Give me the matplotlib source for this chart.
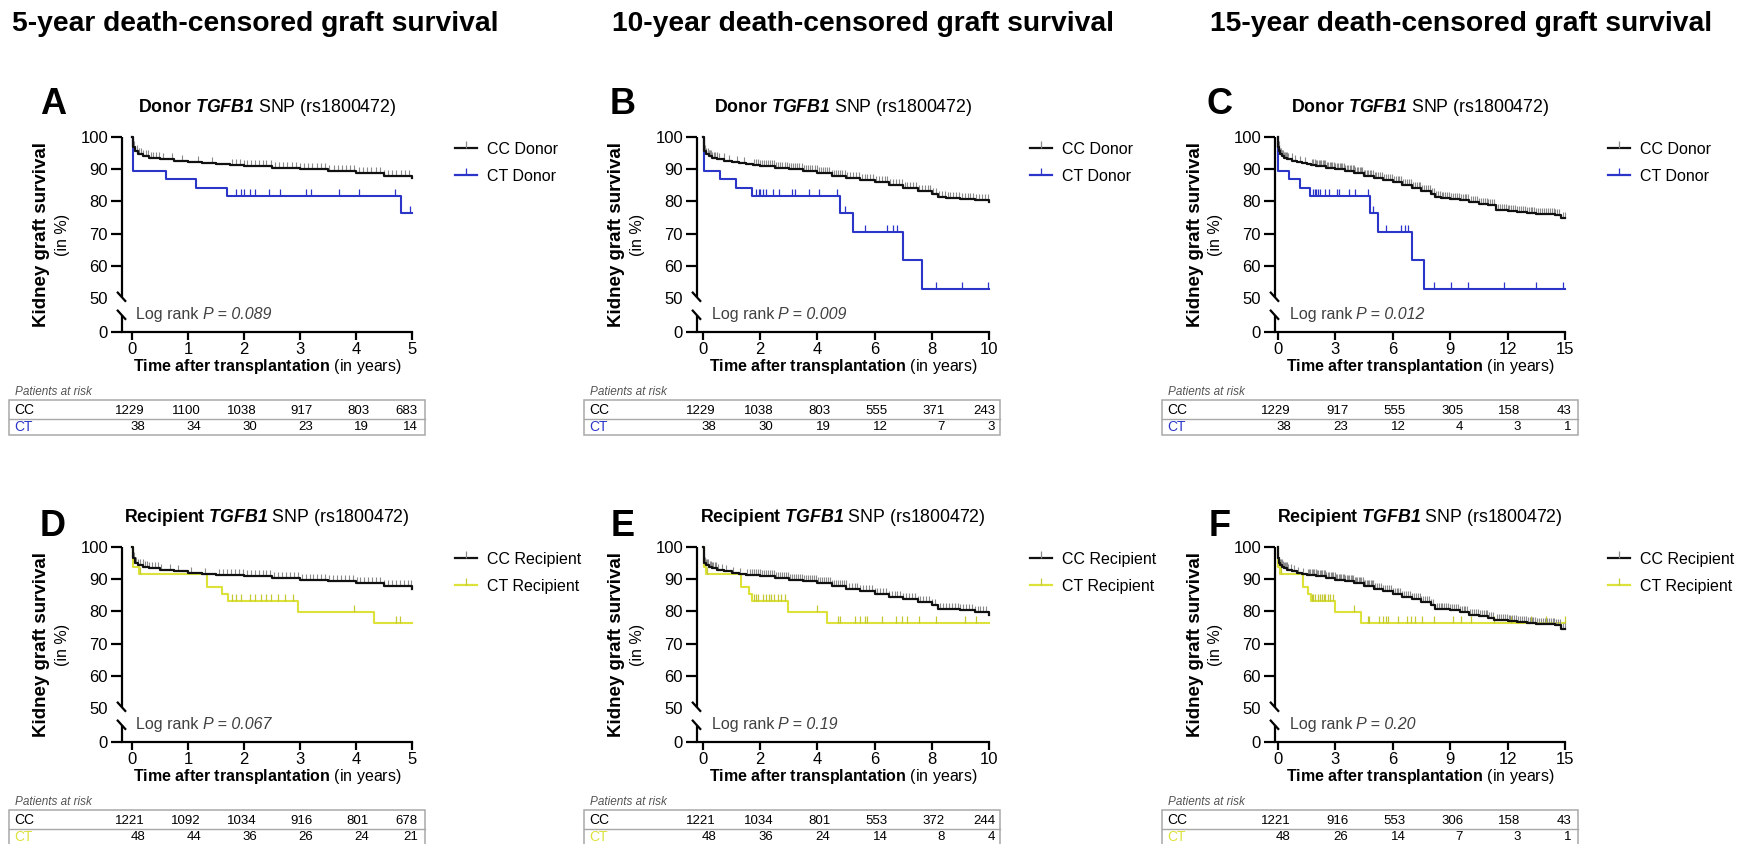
import numpy as np
import matplotlib
matplotlib.use("Agg")
import matplotlib.pyplot as plt
from matplotlib.transforms import blended_transform_factory, ScaledTranslation
from matplotlib.patches import Rectangle
from matplotlib.lines import Line2D

plt.rcParams['font.family'] = ['Liberation Sans', 'DejaVu Sans']
plt.rcParams['mathtext.fontset'] = 'custom'
plt.rcParams['mathtext.rm'] = 'Liberation Sans'
plt.rcParams['mathtext.it'] = 'Liberation Sans:italic'
plt.rcParams['mathtext.bf'] = 'Liberation Sans:bold'
plt.rcParams['mathtext.bfit'] = 'Liberation Sans:italic:bold'

# ---------------- data ----------------
column_titles = ["5-year death-censored graft survival",
                 "10-year death-censored graft survival",
                 "15-year death-censored graft survival"]
panel_letters = [["A", "B", "C"], ["D", "E", "F"]]
horizons = [5, 10, 15]
xtick_steps = [1, 2, 3]

# CC donor (black)
cc_donor_t = [0, 0.02, 0.05, 0.1, 0.2, 0.3, 0.5, 0.75, 1.0, 1.25, 1.5, 1.75, 2.0, 2.5, 3.0, 3.5, 4.0, 4.5,
              5.0, 5.5, 6.0, 6.5, 7.0, 7.5, 8.0, 8.2, 8.5, 9.0, 9.5, 10.0, 10.5, 11.0, 11.4, 12.0, 12.5,
              13.0, 13.5, 14.0, 14.5, 14.8]
cc_donor_s = [100, 97.0, 95.5, 94.8, 94.0, 93.6, 93.1, 92.6, 92.2, 91.8, 91.5, 91.2, 91.0, 90.5, 90.0, 89.5,
              88.9, 88.0, 87.2, 86.6, 86.0, 85.0, 84.2, 83.3, 82.3, 81.3, 81.0, 80.8, 80.4, 79.8, 79.3, 78.8,
              77.4, 77.0, 76.8, 76.5, 76.2, 76.0, 75.9, 74.7]
cc_donor_censor = [0.04, 0.08, 0.12, 0.16, 0.2, 0.24, 0.28, 0.33, 0.38, 0.43, 0.48, 0.55, 0.72, 0.9, 1.18, 1.42,
                   1.78, 1.86, 1.93, 2.0, 2.06, 2.13, 2.2, 2.27, 2.34, 2.4, 2.48, 2.55, 2.62, 2.7, 2.77, 2.85,
                   2.92, 3.0, 3.07, 3.15, 3.22, 3.3, 3.37, 3.45, 3.52, 3.6, 3.67, 3.75, 3.82, 3.9, 3.97, 4.05,
                   4.12, 4.2, 4.27, 4.35, 4.42, 4.5, 4.57, 4.65, 4.72, 4.8, 4.87, 4.95, 5.05, 5.15, 5.25, 5.35,
                   5.45, 5.55, 5.65, 5.75, 5.85, 5.95, 6.05, 6.15, 6.25, 6.35, 6.45, 6.55, 6.65, 6.75, 6.85,
                   6.95, 7.05, 7.15, 7.25, 7.35, 7.45, 7.55, 7.65, 7.75, 7.85, 7.95, 8.05, 8.15, 8.25, 8.35,
                   8.45, 8.55, 8.65, 8.75, 8.85, 8.95, 9.05, 9.15, 9.25, 9.35, 9.45, 9.55, 9.65, 9.75, 9.85,
                   9.95, 10.1, 10.2, 10.3, 10.4, 10.5, 10.6, 10.7, 10.8, 10.9, 11.0, 11.1, 11.2, 11.3, 11.5,
                   11.6, 11.7, 11.8, 11.9, 12.0, 12.1, 12.2, 12.3, 12.4, 12.5, 12.6, 12.7, 12.8, 12.9, 13.0,
                   13.1, 13.2, 13.3, 13.4, 13.5, 13.6, 13.7, 13.8, 13.9, 14.0, 14.1, 14.2, 14.3, 14.4, 14.5,
                   14.6, 14.7, 14.9, 15.0]

# CT donor (blue)
ct_donor_t = [0, 0.02, 0.6, 1.15, 1.7, 4.8, 5.25, 7.0, 7.65]
ct_donor_s = [100, 89.5, 86.8, 84.2, 81.6, 76.3, 70.5, 61.7, 52.9]
ct_donor_censor = [1.85, 1.95, 2.0, 2.1, 2.2, 2.45, 2.65, 3.1, 3.2, 3.7, 4.05, 4.7, 4.97, 5.65, 6.45,
                   6.65, 6.8, 8.15, 9.05, 9.95, 11.8, 13.5, 14.9]

# CC recipient (black)
cc_recip_t = [0, 0.02, 0.05, 0.1, 0.2, 0.3, 0.5, 0.75, 1.0, 1.25, 1.5, 1.75, 2.0, 2.5, 3.0, 3.5, 4.0, 4.5,
              5.0, 5.5, 6.0, 6.5, 7.0, 7.5, 8.0, 8.2, 8.5, 9.0, 9.5, 10.0, 10.5, 11.0, 11.3, 12.0, 12.5,
              13.0, 13.5, 14.0, 14.5, 14.8]
cc_recip_s = [100, 96.5, 95.0, 94.3, 93.8, 93.4, 93.0, 92.5, 92.0, 91.7, 91.4, 91.2, 90.9, 90.4, 89.8, 89.3,
              88.8, 87.9, 87.0, 86.2, 85.4, 84.6, 83.8, 83.0, 82.0, 80.8, 80.6, 80.4, 79.8, 79.0, 78.5, 78.0,
              77.2, 76.9, 76.7, 76.4, 76.2, 76.0, 75.8, 74.4]
cc_recip_censor = [0.03, 0.07, 0.11, 0.15, 0.19, 0.23, 0.27, 0.31, 0.36, 0.41, 0.46, 0.52, 0.68, 0.82, 1.05,
                   1.3, 1.55, 1.63, 1.7, 1.77, 1.84, 1.91, 1.98, 2.05, 2.12, 2.19, 2.26, 2.33, 2.4, 2.47, 2.54,
                   2.61, 2.68, 2.75, 2.82, 2.89, 2.96, 3.03, 3.1, 3.17, 3.24, 3.31, 3.38, 3.45, 3.52, 3.59,
                   3.66, 3.73, 3.8, 3.87, 3.94, 4.01, 4.08, 4.15, 4.22, 4.29, 4.36, 4.43, 4.5, 4.57, 4.64,
                   4.71, 4.78, 4.85, 4.92, 4.99, 5.1, 5.2, 5.3, 5.4, 5.5, 5.6, 5.7, 5.8, 5.9, 6.0, 6.1, 6.2,
                   6.3, 6.4, 6.5, 6.6, 6.7, 6.8, 6.9, 7.0, 7.1, 7.2, 7.3, 7.4, 7.5, 7.6, 7.7, 7.8, 7.9, 8.0,
                   8.1, 8.3, 8.4, 8.5, 8.6, 8.7, 8.8, 8.9, 9.0, 9.1, 9.2, 9.3, 9.4, 9.5, 9.6, 9.7, 9.8, 9.9,
                   10.05, 10.15, 10.25, 10.35, 10.45, 10.55, 10.65, 10.75, 10.85, 10.95, 11.05, 11.15, 11.25,
                   11.45, 11.55, 11.65, 11.75, 11.85, 11.95, 12.05, 12.15, 12.25, 12.35, 12.45, 12.55, 12.65,
                   12.75, 12.85, 12.95, 13.05, 13.15, 13.25, 13.35, 13.45, 13.55, 13.65, 13.75, 13.85, 13.95,
                   14.05, 14.15, 14.25, 14.35, 14.45, 14.55, 14.65, 14.75, 14.9, 15.0]

# CT recipient (yellow)
ct_recip_t = [0, 0.02, 0.12, 1.33, 1.6, 1.72, 2.97, 4.33]
ct_recip_s = [100, 93.8, 91.7, 87.5, 85.4, 83.3, 79.8, 76.5]
ct_recip_censor = [0.15, 1.78, 1.85, 1.94, 2.1, 2.2, 2.3, 2.39, 2.48, 2.61, 2.74, 2.87, 3.97, 4.72, 4.78,
                   5.3, 5.5, 5.65, 5.75, 6.25, 6.75, 6.95, 7.15, 7.55, 8.15, 9.15, 9.55, 10.1, 11.3, 12.2,
                   13.2, 14.0, 15.0]

pvalues_donor = ["0.089", "0.009", "0.012"]
pvalues_recip = ["0.067", "0.19", "0.20"]

risk_cc_donor = [[1229, 1100, 1038, 917, 803, 683], [1229, 1038, 803, 555, 371, 243], [1229, 917, 555, 305, 158, 43]]
risk_ct_donor = [[38, 34, 30, 23, 19, 14], [38, 30, 19, 12, 7, 3], [38, 23, 12, 4, 3, 1]]
risk_cc_recip = [[1221, 1092, 1034, 916, 801, 678], [1221, 1034, 801, 553, 372, 244], [1221, 916, 553, 306, 158, 43]]
risk_ct_recip = [[48, 44, 36, 26, 24, 21], [48, 36, 24, 14, 8, 4], [48, 26, 14, 7, 3, 1]]

ytick_labels = ["0", "50", "60", "70", "80", "90", "100"]

# ---------------- style / layout ----------------
BLACK = "#111111"
CC_TICK = "#8a8a8a"
BLUE = "#2b36c9"
YELLOW = "#dce23a"
YELLOW_TICK = "#c4c832"
GRAY_TXT = "#404040"
BOX = "#a8a8a8"

W, H = 1749, 844
fig = plt.figure(figsize=(W / 100, H / 100), dpi=100)
renderer = fig.canvas.get_renderer()

spine_x = [122, 697, 1275]
axes_w = [290, 292, 290]
xlim_left = [-0.18, -0.21, -0.15]
row_top = [137, 547]
axes_h = 195
Y_ZERO = 39.4
letter_x = [53, 623, 1220]
letter_dy = [-33, -20]
title_x = [12, 612, 1210]
LR_SIZE = 11.5

rows = [
    dict(group="Donor", cc=(cc_donor_t, cc_donor_s, cc_donor_censor), ct=(ct_donor_t, ct_donor_s, ct_donor_censor),
         color=BLUE, tick=BLUE, pv=pvalues_donor, rcc=risk_cc_donor, rct=risk_ct_donor),
    dict(group="Recipient", cc=(cc_recip_t, cc_recip_s, cc_recip_censor), ct=(ct_recip_t, ct_recip_s, ct_recip_censor),
         color=YELLOW, tick=YELLOW_TICK, pv=pvalues_recip, rcc=risk_cc_recip, rct=risk_ct_recip),
]


def fxy(x, y):
    return x / W, 1 - y / H


def truncated(t, s, h):
    t = np.asarray(t, float)
    s = np.asarray(s, float)
    m = t <= h
    return np.append(t[m], h), np.append(s[m], s[m][-1])


def censor_points(t, s, c, h):
    t = np.asarray(t, float)
    s = np.asarray(s, float)
    c = np.asarray(c, float)
    c = c[c <= h]
    idx = np.searchsorted(t, c, side="right") - 1
    return c, s[idx]


for j, title in enumerate(column_titles):
    fig.text(*fxy(title_x[j], 24), title, fontsize=20.3, fontweight="bold", ha="left", va="center")

for r, row in enumerate(rows):
    rt = row_top[r]
    for j in range(3):
        h = horizons[j]
        sx = spine_x[j]
        aw = axes_w[j]
        ax = fig.add_axes([sx / W, 1 - (rt + axes_h) / H, aw / W, axes_h / H])
        ax.set_xlim(xlim_left[j], h)
        ax.set_ylim(Y_ZERO, 100)
        for sp in ["top", "right", "left"]:
            ax.spines[sp].set_visible(False)
        ax.spines["bottom"].set_linewidth(1.6)
        ax.patch.set_alpha(0)

        # curves: CT first, CC on top
        ct_t, ct_s, ct_c = row["ct"]
        tt, ss = truncated(ct_t, ct_s, h)
        ax.step(tt, ss, where="post", color=row["color"], lw=1.5, clip_on=False, zorder=3)
        cx, cy = censor_points(ct_t, ct_s, ct_c, h)
        ax.plot(cx, cy, ls="none", marker=2, ms=5, mew=0.9, color=row["tick"], clip_on=False, zorder=3)

        cc_t, cc_s, cc_c = row["cc"]
        cx, cy = censor_points(cc_t, cc_s, cc_c, h)
        ax.plot(cx, cy, ls="none", marker=2, ms=4.5, mew=0.8, color=CC_TICK, clip_on=False, zorder=4)
        tt, ss = truncated(cc_t, cc_s, h)
        ax.step(tt, ss, where="post", color=BLACK, lw=1.6, clip_on=False, zorder=5)

        # broken y axis
        yt = ax.get_yaxis_transform()
        kw = dict(color="black", lw=1.6, transform=yt, clip_on=False, solid_capstyle="butt", zorder=6)
        ax.plot([0, 0], [100, 50.4], **kw)
        ax.plot([0, 0], [44.7, Y_ZERO], **kw)
        d1, d2 = -5 / aw, 4 / aw
        ax.plot([d1, d2], [51.9, 48.8], **kw)
        ax.plot([d1, d2], [46.3, 43.2], **kw)

        ax.set_yticks([Y_ZERO, 50, 60, 70, 80, 90, 100])
        ax.set_yticklabels(ytick_labels)
        ax.yaxis.get_major_ticks()[1].tick1line.set_visible(False)
        xt = list(range(0, h + 1, xtick_steps[j]))
        ax.set_xticks(xt)
        ax.tick_params(axis="y", length=8, width=1.6, pad=2, labelsize=12)
        ax.tick_params(axis="x", length=5.5, width=1.6, pad=1.8, labelsize=12)

        # log rank text: regular part + italic part
        t1 = ax.text(0.05, 43.3, "Log rank", transform=yt, fontsize=LR_SIZE, color=GRAY_TXT,
                     ha="left", va="baseline")
        w1 = t1.get_window_extent(renderer=renderer).width + 0.28 * LR_SIZE * 100 / 72
        ax.text(0.05, 43.3, "P = " + row["pv"][j],
                transform=yt + ScaledTranslation(w1 / 100, 0, fig.dpi_scale_trans),
                fontsize=LR_SIZE, color=GRAY_TXT, style="italic", ha="left", va="baseline")

        # titles / labels
        cxp = sx + aw / 2
        fig.text(*fxy(cxp, rt - 30), r"$\mathbf{" + row["group"] + r"}$ $\mathbfit{TGFB1}$ SNP (rs1800472)",
                 fontsize=12.8, ha="center", va="center")
        fig.text(*fxy(letter_x[j], rt + letter_dy[r]), panel_letters[r][j], fontsize=26,
                 fontweight="bold", ha="center", va="center")
        fig.text(*fxy(sx - 80, rt + axes_h / 2), "Kidney graft survival", rotation=90, fontsize=13.5,
                 fontweight="bold", ha="center", va="center")
        fig.text(*fxy(sx - 59, rt + axes_h / 2), "(in %)", rotation=90, fontsize=11.5, ha="center", va="center")
        fig.text(*fxy(cxp, rt + 229), r"$\mathbf{Time\ after\ transplantation}$ (in years)",
                 fontsize=11.5, ha="center", va="center")

        # legend
        handles = [Line2D([], [], color=BLACK, lw=1.6, marker=2, ms=5, mew=0.9, mec=CC_TICK),
                   Line2D([], [], color=row["color"], lw=1.6, marker=2, ms=5, mew=0.9, mec=row["tick"])]
        labels = ["CC " + row["group"], "CT " + row["group"]]
        ax.legend(handles, labels, loc="center left", bbox_to_anchor=fxy(sx + 333, rt + 26),
                  bbox_transform=fig.transFigure, frameon=False, borderpad=0, borderaxespad=0,
                  handlelength=1.4, handletextpad=0.6, labelspacing=0.75, fontsize=11.5, numpoints=1)

        # patients at risk table
        bl = sx - 113
        bt = rt + 263
        bw, bh = 416, 35
        fig.text(*fxy(bl + 6, bt - 8), "Patients at risk", fontsize=8.5, style="italic", color="#555555",
                 ha="left", va="center")
        fig.add_artist(Rectangle(fxy(bl, bt + bh), bw / W, bh / H, transform=fig.transFigure, fill=False,
                                 ec=BOX, lw=1.1))
        fig.add_artist(Line2D([bl / W, (bl + bw) / W], [1 - (bt + 19) / H] * 2, transform=fig.transFigure,
                              color=BOX, lw=1.0))
        y_cc = 1 - (bt + 10.5) / H
        y_ct = 1 - (bt + 27) / H
        fig.text(bl / W + 5 / W, y_cc, "CC", fontsize=10, ha="left", va="center")
        fig.text(bl / W + 5 / W, y_ct, "CT", fontsize=10, ha="left", va="center", color=row["color"])
        for k, tv in enumerate(xt):
            off = 13 if k < len(xt) - 1 else 6
            tr = blended_transform_factory(ax.transData + ScaledTranslation(off / 100, 0, fig.dpi_scale_trans),
                                           fig.transFigure)
            fig.text(tv, y_cc, str(row["rcc"][j][k]), transform=tr, fontsize=9.5, ha="right", va="center")
            fig.text(tv, y_ct, str(row["rct"][j][k]), transform=tr, fontsize=9.5, ha="right", va="center")

fig.savefig("out.png", dpi=100, facecolor="white")
